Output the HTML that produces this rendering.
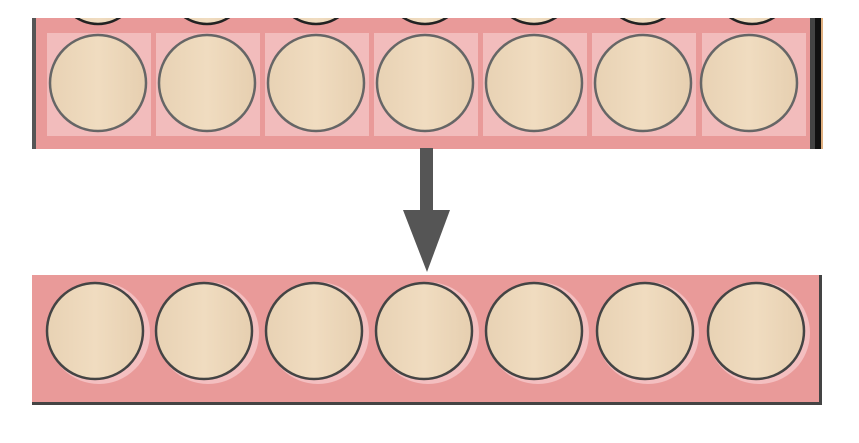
<!DOCTYPE html>
<html><head><style>
body{margin:0;width:859px;height:438px;background:#fff;overflow:hidden}
</style></head><body>
<svg width="859" height="438" viewBox="0 0 859 438" xmlns="http://www.w3.org/2000/svg">
<defs>
<linearGradient id="w" x1="0" y1="0" x2="1" y2="0">
<stop offset="0" stop-color="#e8d2b4"/><stop offset="0.5" stop-color="#f0dcc0"/><stop offset="1" stop-color="#e6cfb0"/>
</linearGradient>
</defs>
<!-- top panel -->
<rect x="32" y="18" width="780" height="131" fill="#e99a99"/>
<rect x="32" y="18" width="4" height="131" fill="#555"/>
<rect x="810" y="18" width="5" height="131" fill="#444"/>
<rect x="815" y="18" width="6" height="131" fill="#111"/>
<rect x="821" y="18" width="2" height="131" fill="#e0b080"/>
<g id="top">
<g fill="url(#w)" stroke="#222" stroke-width="2.5">
<circle cx="98" cy="-16" r="40"/><circle cx="207" cy="-16" r="40"/><circle cx="316" cy="-16" r="40"/><circle cx="425" cy="-16" r="40"/><circle cx="534" cy="-16" r="40"/><circle cx="643" cy="-16" r="40"/><circle cx="752" cy="-16" r="40"/>
</g>
<rect x="32" y="0" width="791" height="18" fill="#fff"/>
<g fill="#f2bcbc">
<rect x="47" y="33" width="104" height="103"/><rect x="156" y="33" width="104" height="103"/><rect x="265" y="33" width="104" height="103"/><rect x="374" y="33" width="104" height="103"/><rect x="483" y="33" width="104" height="103"/><rect x="592" y="33" width="104" height="103"/><rect x="702" y="33" width="104" height="103"/>
</g>
<g fill="url(#w)" stroke="#666" stroke-width="2.5">
<circle cx="98" cy="83" r="48"/><circle cx="207" cy="83" r="48"/><circle cx="316" cy="83" r="48"/><circle cx="425" cy="83" r="48"/><circle cx="534" cy="83" r="48"/><circle cx="643" cy="83" r="48"/><circle cx="749" cy="83" r="48"/>
</g>
</g>
<!-- arrow -->
<rect x="420" y="148" width="13" height="63" fill="#555"/>
<polygon points="403,210 450,210 427,272" fill="#555"/>
<!-- bottom panel -->
<rect x="32" y="275" width="790" height="130" fill="#e99a99"/>
<rect x="819" y="275" width="3" height="130" fill="#444"/>
<rect x="32" y="402" width="790" height="3" fill="#444"/>
<g fill="#f4bfc0">
<circle cx="99" cy="333" r="51"/><circle cx="208" cy="333" r="51"/><circle cx="318" cy="333" r="51"/><circle cx="428" cy="333" r="51"/><circle cx="538" cy="333" r="51"/><circle cx="648" cy="333" r="51"/><circle cx="759" cy="333" r="51"/>
</g>
<g fill="url(#w)" stroke="#444" stroke-width="2.5">
<circle cx="95" cy="331" r="48"/><circle cx="204" cy="331" r="48"/><circle cx="314" cy="331" r="48"/><circle cx="424" cy="331" r="48"/><circle cx="534" cy="331" r="48"/><circle cx="645" cy="331" r="48"/><circle cx="756" cy="331" r="48"/>
</g>
</svg>
</body></html>
